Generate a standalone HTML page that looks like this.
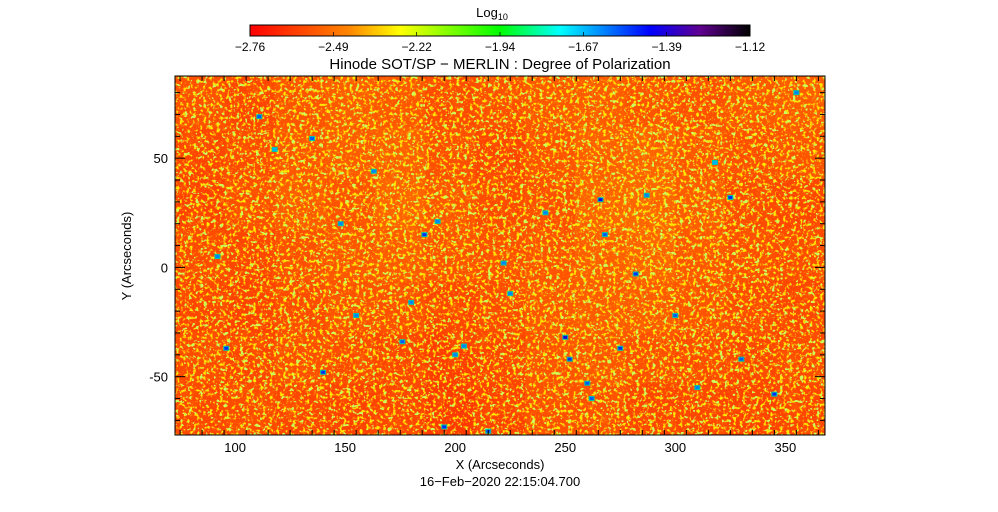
<!DOCTYPE html>
<html><head><meta charset="utf-8"><style>
body{margin:0;background:#fff;}
svg{display:block;font-family:"Liberation Sans",sans-serif;}
</style></head><body>
<svg id="c" width="998" height="512">
<defs>
<linearGradient id="cb" x1="0" x2="1" y1="0" y2="0">
<stop offset="0" stop-color="#ff0000"/><stop offset="0.2" stop-color="#ff8800"/>
<stop offset="0.3" stop-color="#ffff00"/><stop offset="0.5" stop-color="#00ff00"/>
<stop offset="0.62" stop-color="#00ffff"/><stop offset="0.8" stop-color="#0000ff"/>
<stop offset="0.9" stop-color="#600090"/><stop offset="1" stop-color="#000000"/>
</linearGradient>
<filter id="n1" x="0" y="0" width="100%" height="100%">
<feTurbulence type="fractalNoise" baseFrequency="0.3" numOctaves="2" seed="3"/>
<feColorMatrix type="matrix" values="0 0 0 0 1  0 0 0 0 0.82  0 0 0 0 0  6 0 0 0 -3.25"/>
</filter>
<filter id="n2" x="0" y="0" width="100%" height="100%">
<feTurbulence type="fractalNoise" baseFrequency="0.25" numOctaves="2" seed="11"/>
<feColorMatrix type="matrix" values="0 0 0 0 0.6  0 0 0 0 1  0 0 0 0 0.1  12 0 0 0 -7.6"/>
</filter>
<filter id="n3" x="0" y="0" width="100%" height="100%">
<feTurbulence type="fractalNoise" baseFrequency="0.06" numOctaves="2" seed="7"/>
<feColorMatrix type="matrix" values="0 0 0 0 1  0 0 0 0 0.1  0 0 0 0 0  3 0 0 0 -1.7"/>
</filter>
<clipPath id="pc"><rect x="175" y="76" width="650" height="359"/></clipPath>
</defs>
<g id="plot" clip-path="url(#pc)"></g>
<g id="ax"></g>
</svg>
<script>
const xDomain=[72.7,368];
const yDomain=[-76.7,87.6];
// coarse mean log10 degree of polarization (rows top->bottom)
const coarseVals=[
[-2.57,-2.59,-2.56,-2.54,-2.55,-2.58,-2.57,-2.55,-2.54,-2.56,-2.57,-2.55,-2.54],
[-2.59,-2.58,-2.55,-2.54,-2.53,-2.57,-2.59,-2.56,-2.53,-2.52,-2.55,-2.57,-2.56],
[-2.60,-2.57,-2.54,-2.56,-2.52,-2.55,-2.58,-2.57,-2.52,-2.51,-2.54,-2.58,-2.59],
[-2.58,-2.59,-2.57,-2.55,-2.54,-2.56,-2.57,-2.56,-2.53,-2.52,-2.55,-2.57,-2.58],
[-2.59,-2.60,-2.58,-2.56,-2.57,-2.59,-2.58,-2.55,-2.54,-2.54,-2.56,-2.58,-2.59],
[-2.58,-2.59,-2.57,-2.58,-2.59,-2.61,-2.59,-2.56,-2.55,-2.57,-2.58,-2.59,-2.58],
[-2.59,-2.58,-2.59,-2.60,-2.59,-2.62,-2.60,-2.57,-2.57,-2.59,-2.59,-2.60,-2.59]
];
// strong polarization patches [x arcsec, y arcsec, log10]
const spotX=[111,96,92,135,140,155,163,176,180,186,192,215,225,222,250,252,266,260,275,282,287,300,310,318,330,325,345,355,262,200,195,118,148,204,241,268];
const spotY=[69,-37,5,59,-48,-22,44,-34,-16,15,21,-75,-12,2,-32,-42,31,-53,-37,-3,33,-22,-55,48,-42,32,-58,80,-60,-40,-73,54,20,-36,25,15];
const spotV=[-1.55,-1.5,-1.6,-1.55,-1.5,-1.6,-1.6,-1.55,-1.6,-1.5,-1.6,-1.55,-1.6,-1.6,-1.4,-1.5,-1.45,-1.55,-1.5,-1.5,-1.6,-1.55,-1.6,-1.65,-1.55,-1.5,-1.5,-1.6,-1.55,-1.6,-1.5,-1.65,-1.6,-1.6,-1.6,-1.55];
const cbTicks=["-2.76","-2.49","-2.22","-1.94","-1.67","-1.39","-1.12"];
const xTicks=[100,150,200,250,300,350];
const yTicks=[-50,0,50];

const L=175,R=825,T=76,B=435,NS="http://www.w3.org/2000/svg";
const sx=v=>L+(v-xDomain[0])/(xDomain[1]-xDomain[0])*(R-L);
const sy=v=>B-(v-yDomain[0])/(yDomain[1]-yDomain[0])*(B-T);
const stops=[[0,[255,0,0]],[0.2,[255,136,0]],[0.3,[255,255,0]],[0.5,[0,255,0]],[0.62,[0,255,255]],[0.8,[0,0,255]],[0.9,[96,0,144]],[1,[0,0,0]]];
function cmap(v){let t=(v+2.76)/(1.64);t=Math.max(0,Math.min(1,t));
for(let i=1;i<stops.length;i++){if(t<=stops[i][0]){const a=stops[i-1],b=stops[i],f=(t-a[0])/(b[0]-a[0]);
return `rgb(${a[1].map((c,k)=>Math.round(c+(b[1][k]-c)*f)).join(',')})`;}}return'#000';}
function el(tag,at,p){const e=document.createElementNS(NS,tag);for(const k in at)e.setAttribute(k,at[k]);p.appendChild(e);return e;}
const plot=document.getElementById('plot'),ax=document.getElementById('ax');
const rows=coarseVals.length,cols=coarseVals[0].length,cw=(R-L)/cols,ch=(B-T)/rows;
coarseVals.forEach((row,r)=>row.forEach((v,c)=>{
 const e=el('rect',{x:L+c*cw,y:T+r*ch,width:cw+0.5,height:ch+0.5,fill:cmap(v)},plot);
 
 
}));
const t3=el('rect',{x:L,y:T,width:R-L,height:B-T,filter:'url(#n3)'},plot);

const t1=el('rect',{x:L,y:T,width:R-L,height:B-T,filter:'url(#n1)'},plot);

const t2=el('rect',{x:L,y:T,width:R-L,height:B-T,filter:'url(#n2)'},plot);

spotX.forEach((x,i)=>{
 const g=el('rect',{x:sx(x)-3,y:sy(spotY[i])-2.5,width:6,height:5,fill:'#00c8a0'},plot);
 
 const e=el('rect',{x:sx(x)-2,y:sy(spotY[i])-1.5,width:4,height:3,fill:cmap(spotV[i])},plot);
 
 
});
const fr=el('rect',{x:L,y:T,width:R-L,height:B-T,fill:'none',stroke:'#000','stroke-width':1},ax);

function txt(s,x,y,anc,size,name,rot){const e=el('text',{x:x,y:y,'text-anchor':anc,'font-size':size,fill:'#000'},ax);
 if(rot)e.setAttribute('transform',`rotate(-90 ${x} ${y})`);e.textContent=s;return e;}
for(let v=75;v<=365;v+=10){const X=sx(v),len=(v%50==0)?10:5;
 el('line',{x1:X,x2:X,y1:B,y2:B-len,stroke:'#000'},ax);el('line',{x1:X,x2:X,y1:T,y2:T+len,stroke:'#000'},ax);}
for(let v=-70;v<=80;v+=10){const Y=sy(v),len=(v%50==0)?10:5;
 el('line',{x1:L,x2:L+len,y1:Y,y2:Y,stroke:'#000'},ax);el('line',{x1:R,x2:R-len,y1:Y,y2:Y,stroke:'#000'},ax);}
xTicks.forEach(v=>txt(String(v),sx(v),452,'middle',13,'x-tick-label'));
yTicks.forEach(v=>txt(String(v),168,sy(v)+5,'end',13,'y-tick-label'));
txt('X (Arcseconds)',500,469,'middle',13,'x-axis-title');
txt('Y (Arcseconds)',131,256,'middle',13,'y-axis-title',true);
txt('16\u2212Feb\u22122020 22:15:04.700',500,486,'middle',13,'date-label');
txt('Hinode SOT/SP \u2212 MERLIN : Degree of Polarization',500,69,'middle',15,'chart-title');
const cb=el('rect',{x:250,y:25,width:500,height:11,fill:'url(#cb)',stroke:'#000'},ax);

cbTicks.forEach((s,i)=>{const X=250+i*500/6;el('line',{x1:X,x2:X,y1:36,y2:32,stroke:'#000','stroke-width':0.7},ax);
 txt(s.replace('-','\u2212'),X,51,'middle',12,'colorbar-tick-label');});
const lg=txt('Log',492,17,'middle',13,'colorbar-title');
const sub=el('tspan',{'font-size':9,dy:3},lg);sub.textContent='10';
</script>
</body></html>
